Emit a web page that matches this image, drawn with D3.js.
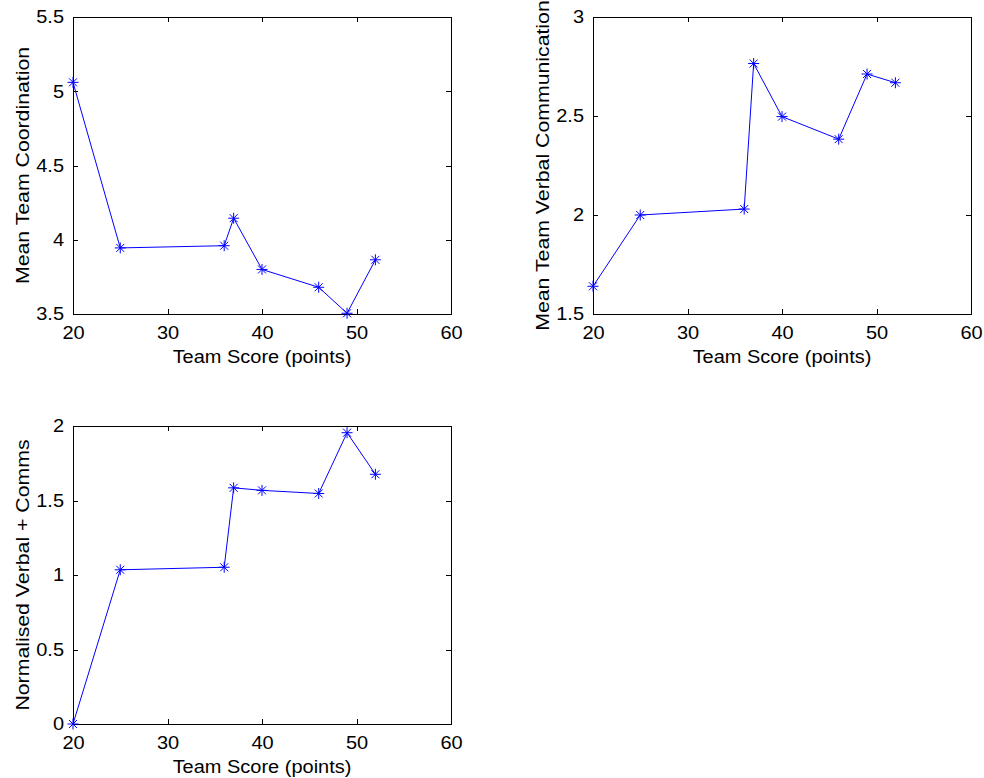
<!DOCTYPE html>
<meta charset="utf-8">
<title>Team Score plots</title>
<style>
    body { margin: 0; background: #fff; }
    svg { display: block; }
    .frame { fill: none; stroke: #000; stroke-width: 1px; shape-rendering: crispEdges; }
    .tick line { stroke: #000; shape-rendering: crispEdges; }
    .line { fill: none; stroke: #0000ff; stroke-width: 1px; }
    .marker { fill: none; stroke: #0000ff; stroke-width: 1px; }
</style>
<body>
<div id="my_chart"></div>
<script src="https://d3js.org/d3.v7.min.js"></script>
<script>

// data
var teamScore    = [20, 25, 36, 37, 40, 46, 49, 52];
var coordination = [5.06, 3.945, 3.96, 4.145, 3.80, 3.68, 3.505, 3.865];
var verbalComm   = [1.64, 2.0, 2.03, 2.765, 2.497, 2.383, 2.712, 2.668];
var normalised   = [0, 1.035, 1.052, 1.585, 1.568, 1.547, 1.955, 1.676];

var xTicks  = [20, 30, 40, 50, 60];
var yTicks1 = [3.5, 4, 4.5, 5, 5.5];
var yTicks2 = [1.5, 2, 2.5, 3];
var yTicks3 = [0, 0.5, 1, 1.5, 2];

var xLabel = "Team Score (points)";
var yLabel1 = "Mean Team Coordination";
var yLabel2 = "Mean Team Verbal Communication";
var yLabel3 = "Normalised Verbal + Comms";

var width = 984, height = 778;
var font = "'Liberation Sans', Arial, sans-serif";
var fontSize = 18.5;
// the original text is a little wider than Arial, rotated text even more so
var stretch = 1.08, stretchRot = 1.15;

var svg = d3.select("#my_chart")
    .append("svg")
    .attr("width", width)
    .attr("height", height);

// one axes box per panel
var panels = [
    { left: 73,  top: 17,  w: 378, h: 297, y: coordination, yTicks: yTicks1, yLabel: yLabel1 },
    { left: 593, top: 17,  w: 378, h: 297, y: verbalComm,   yTicks: yTicks2, yLabel: yLabel2 },
    { left: 73,  top: 426, w: 378, h: 298, y: normalised,   yTicks: yTicks3, yLabel: yLabel3 }
];

// matlab style asterisk marker
function asterisk(r, d) {
    return "M" + (-r) + ",0H" + r + "M0," + (-r) + "V" + r +
        "M" + (-d) + "," + (-d) + "L" + d + "," + d +
        "M" + (-d) + "," + d + "L" + d + "," + (-d);
}

panels.forEach(function (p) {
    var g = svg.append("g")
        .attr("transform", "translate(" + p.left + "," + p.top + ")");

    var x = d3.scaleLinear()
        .domain(d3.extent(xTicks))
        .range([0, p.w]);
    var y = d3.scaleLinear()
        .domain(d3.extent(p.yTicks))
        .range([p.h, 0]);

    // ticks pointing inwards on all four sides
    g.append("g")
        .attr("transform", "translate(0," + p.h + ")")
        .call(d3.axisBottom(x).tickValues(xTicks).tickSize(-5).tickPadding(12)
            .tickFormat(function (d) { return d; }));
    g.append("g")
        .call(d3.axisLeft(y).tickValues(p.yTicks).tickSize(-5).tickPadding(9 / stretch)
            .tickFormat(function (d) { return d; }));
    g.append("g")
        .call(d3.axisTop(x).tickValues(xTicks).tickSize(-5).tickFormat(""));
    g.append("g")
        .attr("transform", "translate(" + p.w + ",0)")
        .call(d3.axisRight(y).tickValues(p.yTicks).tickSize(-5).tickFormat(""));

    g.selectAll(".domain").remove();
    g.selectAll(".tick text")
        .attr("font-family", font)
        .attr("font-size", fontSize)
        .attr("fill", "#000")
        .attr("transform", "scale(" + stretch + ",1)");

    g.append("rect")
        .attr("class", "frame")
        .attr("x", 0)
        .attr("y", 0)
        .attr("width", p.w)
        .attr("height", p.h);

    var pts = teamScore.map(function (t, i) { return [t, p.y[i]]; });

    g.append("path")
        .datum(pts)
        .attr("class", "line")
        .attr("d", d3.line()
            .x(function (d) { return x(d[0]); })
            .y(function (d) { return y(d[1]); }));

    g.selectAll(".marker")
        .data(pts)
        .enter().append("path")
        .attr("class", "marker")
        .attr("transform", function (d) { return "translate(" + x(d[0]) + "," + y(d[1]) + ")"; })
        .attr("d", asterisk(5.5, 4));

    // axis titles
    g.append("text")
        .attr("transform", "translate(" + (p.w / 2) + "," + (p.h + 49) + ") scale(" + stretch + ",1)")
        .attr("text-anchor", "middle")
        .attr("font-family", font)
        .attr("font-size", fontSize)
        .attr("fill", "#000")
        .text(xLabel);

    g.append("text")
        .attr("transform", "translate(-44.5," + (p.h / 2) + ") rotate(-90) scale(" + stretchRot + ",1)")
        .attr("text-anchor", "middle")
        .attr("font-family", font)
        .attr("font-size", fontSize)
        .attr("fill", "#000")
        .text(p.yLabel);
});

</script>
</body>
